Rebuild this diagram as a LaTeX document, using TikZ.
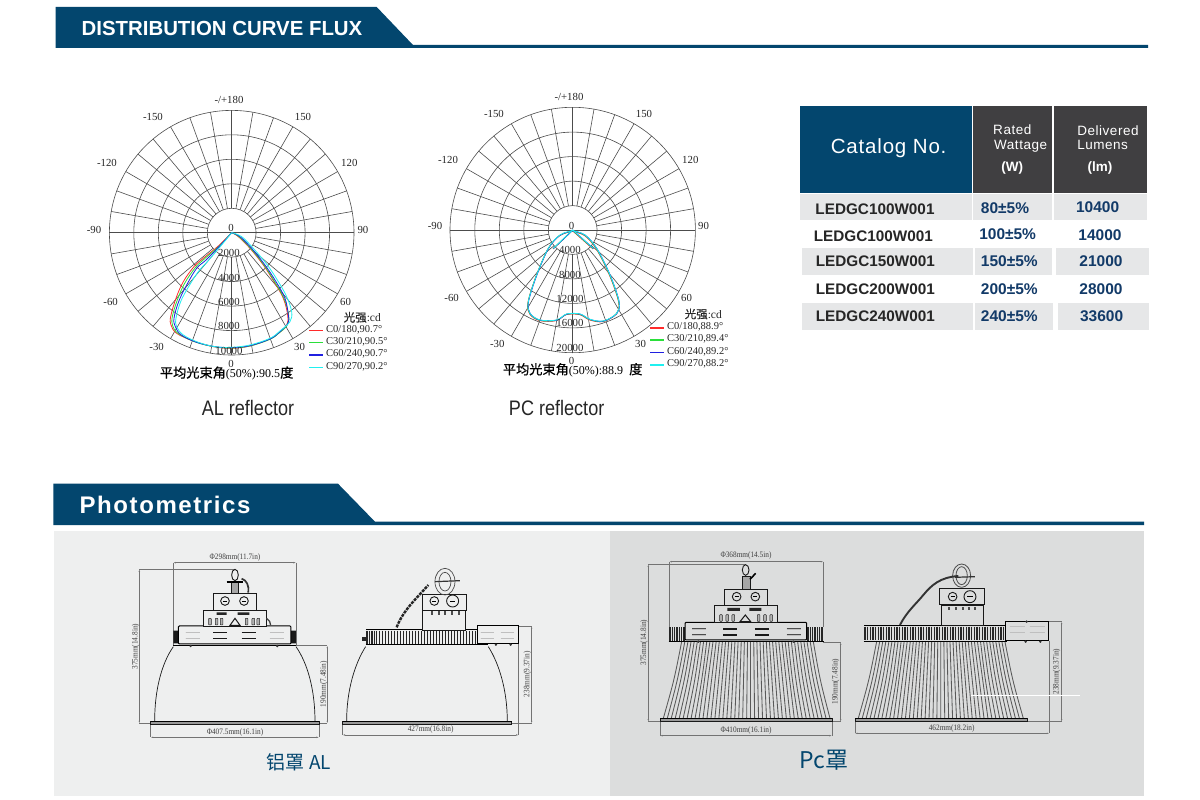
\documentclass[tikz,border=0pt]{standalone}
\usepackage{fontspec}
\setmainfont{Liberation Sans}
\newfontfamily\serifface{Liberation Serif}
\newfontfamily\cjkface{Noto Sans CJK SC}
\newfontfamily\cjkbold[FakeBold=.6]{Noto Sans CJK SC}
\usetikzlibrary{arrows.meta}
\definecolor{navy}{HTML}{03466E}
\definecolor{headgray}{HTML}{403F41}
\definecolor{rowgray}{HTML}{E6E7E8}
\definecolor{valblue}{HTML}{123A68}
\definecolor{panelA}{HTML}{EEEFEF}
\definecolor{panelB}{HTML}{DCDDDD}
\definecolor{curveA}{HTML}{FF2A2A}
\definecolor{curveB}{HTML}{2ADF3A}
\definecolor{curveC}{HTML}{2020E0}
\definecolor{curveD}{HTML}{20F0F0}
\newcommand{\fs}[1]{\fontsize{#1}{#1}\selectfont}
\tikzset{
  zoomed/.style 2 args={shift={(#1,#2)},x=0.3333pt,y=-0.3333pt},
  gridline/.style={draw=black!70,line width=.6pt},
  curveline/.style={line width=.8pt},
  keyline/.style={line width=1.3pt},
  polarlabel/.style={font=\serifface\fs{10.8},text=black!85,inner sep=0pt},
  legendtext/.style={polarlabel,font=\serifface\fs{10.5},anchor=west},
  dimline/.style={draw=black!55,line width=.45pt},
  dimarrow/.style={dimline,{Latex[length=2.5pt,width=1.5pt]}-{Latex[length=2.5pt,width=1.5pt]}},
  dimlabel/.style={font=\serifface\fs{8.3},text=black!75,inner sep=0pt,xscale=.88},
  dimlabelup/.style={font=\serifface\fs{8.3},text=black!75,inner sep=0pt,rotate=90,xscale=.88},
  outline/.style={draw=black!90,line width=.7pt},
  plate/.style={draw=black,line width=1pt},
  slotbar/.style={draw=black!90,line width=1.3pt},
  slotpale/.style={draw=black!70,line width=.45pt,double=black!25,double distance=.7pt},
  pin/.style={draw=black!85,line width=.5pt,fill=black!30,rounded corners=.6pt},
  fin/.style={draw=black!85,line width=1.1pt},
  rib/.style={draw=black!65,line width=.85pt},
  rim/.style={draw=black!90,line width=.5pt,fill=black!40},
  caption/.style={font=\fs{21},xscale=.86,text=black!85,inner sep=0pt},
  subtitle/.style={font=\cjkface\fs{19},text=navy,inner sep=0pt},
  head/.style={font=\fs{13.5}\addfontfeatures{LetterSpace=4},text=white,inner sep=0pt},
  code/.style={font=\bfseries\fs{15.3},text=black!85,inner sep=0pt},
  val/.style={font=\bfseries\fs{15.5},text=valblue,inner sep=0pt},
}
\begin{document}
\begin{tikzpicture}[x=1pt,y=-1pt]
\useasboundingbox (0,0) rectangle (1200,800);
\fill[white] (0,0) rectangle (1200,800);

% banners
\fill[navy] (55.7,7) -- (376.7,7) -- (413,45) -- (1148,45) -- (1148,48) -- (55.7,48) -- cycle;
\node[font=\bfseries\fs{20.4},text=white,inner sep=0pt] (fluxtitle) at (222,28.5) {DISTRIBUTION CURVE FLUX};
\fill[navy] (53.3,483.7) -- (338,483.7) -- (375,521.7) -- (1144,521.7) -- (1144,525) -- (53.3,525) -- cycle;
\node[font=\bfseries\fs{24}\addfontfeatures{LetterSpace=6.6},text=white,inner sep=0pt] (photitle) at (165,504.5) {Photometrics};

% left polar chart
\begin{scope}[shift={(231.7,232.7)}]
  \foreach \r in {24.4,48.9,73.4,97.9,122.3}
    \draw[gridline] (0,0) circle (\r);
  \foreach \a in {0,10,...,350}
    \draw[gridline] (\a:24.4) -- (\a:122.3);
  \draw[gridline] (-122.3,0) -- (122.3,0);
\end{scope}
\begin{scope}[zoomed={70}{85}]
  \draw[curveA,curveline] plot[smooth,tension=.6] coordinates {(485,443)(445,483)(400,520)(372,545)(340,590)(318,640)(302,695)(303,720)(320,745)(370,768)(430,785)(485,790)(540,783)(600,762)(625,745)(650,722)(653,690)(640,640)(612,590)(580,540)(540,490)(505,455)(485,443)};
  \draw[curveB,curveline] plot[smooth,tension=.6] coordinates {(485,443)(448,483)(403,522)(376,548)(344,595)(322,645)(307,695)(308,722)(324,745)(373,770)(432,785)(485,789)(540,783)(600,763)(626,745)(652,720)(656,690)(642,640)(614,590)(582,540)(542,490)(507,455)(485,443)};
  \draw[curveC,curveline] plot[smooth,tension=.6] coordinates {(485,443)(452,480)(408,525)(380,550)(350,600)(326,650)(312,700)(316,725)(334,750)(380,772)(435,785)(485,788)(540,782)(600,762)(628,742)(654,715)(655,690)(645,640)(618,590)(585,540)(545,490)(510,455)(485,443)};
  \draw[curveD,curveline] plot[smooth,tension=.6] coordinates {(485,443)(455,480)(412,530)(385,560)(356,605)(332,650)(318,700)(320,725)(340,750)(385,772)(435,785)(485,787)(540,780)(600,760)(630,738)(660,710)(665,680)(650,635)(625,590)(592,540)(550,490)(515,455)(485,443)};
  \foreach \t/\x/\y [count=\i] in {{-/+180}/477/46,-150/249/97,150/699/97,-120/111/235,120/838/235,-90/72/434,90/879/434,-60/122/650,60/827/650,-30/260/787,30/689/787,0/483/836,0/483/430,2000/477/505,4000/477/578,6000/477/651,8000/477/724,10000/477/797}
    \node[polarlabel] (alpolar\i) at (\x,\y) {\t};
  \node[polarlabel,font=\fs{11.5}] (alunit) at (877,697) {{\cjkbold 光强}{\serifface :cd}};
  \foreach \t/\col/\y [count=\i] in {{C0/180,90.7°}/curveA/737,{C30/210,90.5°}/curveB/773,{C60/240,90.7°}/curveC/810,{C90/270,90.2°}/curveD/848}{
    \coordinate (alkeyA\i) at (718,\y);
    \coordinate (alkeyB\i) at (758,\y);
    \draw[\col,keyline] (alkeyA\i) -- (alkeyB\i);
    \node[legendtext] (alkey\i) at (768,\y-2) {\t};
  }
  \node[inner sep=0pt,font=\fs{13.2}] (albeam) at (470,865) {{\cjkbold 平均光束角}{\serifface\fs{12}(50\%):90.5}{\cjkbold 度}};
  \node[caption] (alcaption) at (534,968) {AL reflector};
\end{scope}

% right polar chart
\begin{scope}[shift={(572.7,230)}]
  \foreach \r in {24.4,48.9,73.4,97.9,122.7}
    \draw[gridline] (0,0) circle (\r);
  \foreach \a in {0,10,...,350}
    \draw[gridline] (\a:24.4) -- (\a:122.7);
  \draw[gridline] (-122.7,0) -- (122.7,0);
\end{scope}
\begin{scope}[zoomed={420}{85}]
  \foreach \col/\dx/\dy in {curveA/-1/2,curveB/-.5/1,curveC/.5/.5,curveD/0/0}{
    \draw[\col,curveline,xshift=\dx*.33pt,yshift=-\dy*.33pt] plot[smooth,tension=.55] coordinates {(458,437)(420,450)(385,490)(350,570)(325,650)(330,685)(360,705)(410,705)(440,687)(480,687)(510,703)(550,708)(590,685)(597,650)(570,570)(530,490)(495,450)(458,437)};
    \draw[\col,curveline,xshift=\dx*.33pt,yshift=-\dy*.33pt] (400,490) -- (458,435) -- (520,490);
  }
  \foreach \t/\x/\y [count=\i] in {{-/+180}/447/37,-150/222/88,150/672/88,-120/84/226,120/811/226,-90/45/424,90/851/424,-60/95/640,60/800/640,-30/232/778,30/662/778,0/455/828,0/455/422,4000/450/495,8000/450/569,12000/450/642,16000/450/715,20000/450/789}
    \node[polarlabel] (pcpolar\i) at (\x,\y) {\t};
  \node[polarlabel,font=\fs{11.5}] (pcunit) at (850,687) {{\cjkbold 光强}{\serifface :cd}};
  \foreach \t/\col/\y [count=\i] in {{C0/180,88.9°}/curveA/729,{C30/210,89.4°}/curveB/765,{C60/240,89.2°}/curveC/802,{C90/270,88.2°}/curveD/840}{
    \coordinate (pckeyA\i) at (691,\y);
    \coordinate (pckeyB\i) at (731,\y);
    \draw[\col,keyline] (pckeyA\i) -- (pckeyB\i);
    \node[legendtext] (pckey\i) at (741,\y-2) {\t};
  }
  \node[inner sep=0pt,font=\fs{13.2}] (pcbeam) at (458,855) {{\cjkbold 平均光束角}{\serifface\fs{12}(50\%):88.9\ \ }{\cjkbold 度}};
  \node[caption] (pccaption) at (410,968) {PC reflector};
\end{scope}

% table
\fill[navy] (800.3,106) rectangle (971.7,192.7);
\fill[headgray] (973,106) rectangle (1052,192.7);
\fill[headgray] (1054,106) rectangle (1146.7,192.7);
\fill[rowgray] (800.3,194.3) rectangle (971.7,220.3);
\fill[rowgray] (972.7,194.3) rectangle (1052,220.3);
\fill[rowgray] (1054,194.3) rectangle (1146.7,220.3);
\fill[rowgray] (802.3,247.7) rectangle (973,274.7);
\fill[rowgray] (975,247.7) rectangle (1052,274.7);
\fill[rowgray] (1056,247.7) rectangle (1148.7,274.7);
\fill[rowgray] (802.3,302.7) rectangle (973,330.3);
\fill[rowgray] (975,302.7) rectangle (1053.3,330.3);
\fill[rowgray] (1057.7,302.7) rectangle (1148.7,330.3);
\begin{scope}[zoomed={790}{100}]
  \node[head,font=\fs{20.5}\addfontfeatures{LetterSpace=4}] (cataloghead) at (296,145) {Catalog No.};
  \node[head] (ratedA) at (667,90) {Rated};
  \node[head] (ratedB) at (692,138) {Wattage};
  \node[head,font=\bfseries\fs{13.5}] (ratedC) at (667,203) {(W)};
  \node[head] (lumenA) at (954,92) {Delivered};
  \node[head] (lumenB) at (938,134) {Lumens};
  \node[head,font=\bfseries\fs{13.5}] (lumenC) at (930,203) {(lm)};
  \foreach \c/\cx/\cy/\w/\wx/\wy/\l/\lx/\ly [count=\i] in {
    LEDGC100W001/255/328/80±5\%/645/325/10400/923/322,
    LEDGC100W001/250/408/100±5\%/653/404/14000/930/405,
    LEDGC150W001/256/485/150±5\%/658/485/21000/933/485,
    LEDGC200W001/256/568/200±5\%/658/568/28000/933/568,
    LEDGC240W001/256/648/240±5\%/658/649/33600/935/650}{
    \node[code] (code\i) at (\cx,\cy) {\c};
    \node[val] (watt\i) at (\wx,\wy) {\w};
    \node[val] (lumen\i) at (\lx,\ly) {\l};
  }
\end{scope}

% photometric panels
\fill[panelA] (54,531) rectangle (610,796);
\fill[panelB] (610,531) rectangle (1144,796);

% aluminium reflector, front and side
\begin{scope}[zoomed={120}{540}]
  \draw[dimarrow] (160,68) -- (528,68);
  \draw[dimline] (160,68) -- (160,315) (528,68) -- (528,315);
  \draw[dimarrow] (58,88) -- (58,550);
  \draw[dimline] (58,88) -- (345,88) (58,550) -- (100,550);
  \draw[dimarrow] (622,317) -- (622,550);
  \draw[dimline] (528,317) -- (622,317) (590,550) -- (622,550);
  \draw[dimarrow] (92,592) -- (597,592);
  \draw[dimline] (92,548) -- (92,592) (597,548) -- (597,592);
  \node[dimlabel] (aldimA) at (345,53) {Φ298mm(11.7in)};
  \node[dimlabelup] (aldimB) at (47,320) {375mm(14.8in)};
  \node[dimlabelup] (aldimC) at (612,433) {190mm(7.48in)};
  \node[dimlabel] (aldimD) at (345,577) {Φ407.5mm(16.1in)};
  % reflector
  \draw[outline] (160,320) .. controls (125,370) and (104,450) .. (104,543);
  \draw[outline] (528,320) .. controls (563,370) and (585,450) .. (585,543);
  \draw[rim] (92,543) rectangle (597,553);
  \draw[plate] (92,544) -- (597,544);
  % housing
  \fill[black!90] (160,272) rectangle (178,310) (512,272) rectangle (528,310);
  \draw[plate,fill=panelA,rounded corners=1pt] (175,258) rectangle (513,312);
  \draw[plate] (160,316) -- (528,316);
  \foreach \x in {197,450} {
    \draw[slotpale] (\x,277) -- ++(42,0);
    \draw[slotpale] (\x,296) -- ++(42,0);
  }
  \foreach \x in {280,365} {
    \draw[slotbar] (\x,277) -- ++(42,0);
    \draw[slotbar] (\x,296) -- ++(42,0);
  }
  \fill[black!80] (212,318) circle (4) (472,318) circle (4);
  \draw[outline,fill=panelA] (250,210) rectangle (440,258);
  \foreach \x in {270,290,305,380,400,415}
    \draw[pin] (\x-4,235) rectangle (\x+4,255);
  \draw[outline,line width=1pt] (330,256) -- (345,235) -- (360,256) -- cycle;
  \fill[black!85] (290,217) rectangle (320,225) (353,217) rectangle (388,225);
  \draw[outline,fill=panelA] (280,160) rectangle (410,210);
  \foreach \x in {315,372} {
    \draw[outline,line width=.9pt] (\x,183) circle (13);
    \draw[black,line width=.9pt] (\x-6,183) -- (\x+6,183);
  }
  \draw[black!75,line width=1.3pt] (440,235) .. controls (448,240) and (452,248) .. (452,256);
  \draw[outline,line width=.9pt] (345,105) ellipse (10 and 17);
  \draw[outline,fill=black!35] (335,125) rectangle (355,160);
  \draw[black,line width=1.2pt] (320,126) -- (370,126);
  \draw[black!80,line width=1.7pt] (365,116) .. controls (380,120) and (388,138) .. (385,158);

  \draw[dimarrow] (668,585) -- (1196,585);
  \draw[dimline] (668,553) -- (668,585) (1196,312) -- (1196,585);
  \draw[dimarrow] (1235,258) -- (1235,550);
  \draw[dimline] (1196,258) -- (1235,258) (1175,550) -- (1235,550);
  \node[dimlabel] (aldimE) at (932,570) {427mm(16.8in)};
  \node[dimlabelup] (aldimF) at (1222,403) {238mm(9.37in)};
  \draw[outline] (737,320) .. controls (705,370) and (680,450) .. (680,543);
  \draw[outline] (1105,320) .. controls (1137,370) and (1162,450) .. (1162,543);
  \draw[rim] (668,543) rectangle (1175,553);
  \draw[plate] (668,544) -- (1175,544);
  \foreach \x in {738,743,...,770}
    \draw[fin,line width=.8pt] (\x,272) -- (\x,312);
  \foreach \x in {778,787,...,1070}
    \draw[fin,line width=.9pt] (\x,272) -- (\x,312);
  \draw[plate] (738,270) -- (1072,270) (738,314) -- (1105,314);
  \fill[black!85] (725,292) rectangle (738,302);
  \draw[plate,fill=panelA] (1072,258) rectangle (1196,312);
  \foreach \x in {1082,1143} {
    \draw[slotpale] (\x,277) -- ++(40,0);
    \draw[slotpale] (\x,296) -- ++(40,0);
  }
  \foreach \x in {1128,1172}
    \fill[black!80] (\x,314) circle (4);
  \draw[outline,fill=panelA] (908,210) rectangle (1035,270);
  \foreach \x in {936,956,976,996,1016}
    \fill[black!70] (\x-3,213) rectangle (\x+3,224);
  \draw[outline,fill=panelA] (908,163) rectangle (1038,212);
  \draw[outline,line width=.9pt] (943,183) circle (13);
  \draw[outline,line width=.9pt] (998,183) circle (18);
  \draw[black,line width=.9pt] (937,183) -- (949,183) (990,183) -- (1006,183);
  \draw[black!70,line width=.7pt] (975,125) ellipse (30 and 40) (975,125) ellipse (18 and 28);
  \draw[black!80,line width=1.2pt] (945,125) -- (1020,122);
  \draw[black!85,line width=2.4pt,dash pattern=on 3pt off 1pt] (830,262) .. controls (850,210) and (890,175) .. (925,135);
\end{scope}

% pc reflector, front and side
\begin{scope}[zoomed={630}{540}]
  \draw[dimarrow] (118,65) -- (580,65);
  \draw[dimline] (118,65) -- (118,262) (580,65) -- (580,262);
  \draw[dimarrow] (55,73) -- (55,545);
  \draw[dimline] (55,73) -- (345,73) (55,545) -- (90,545);
  \draw[dimarrow] (632,307) -- (632,545);
  \draw[dimline] (580,307) -- (632,307) (606,545) -- (632,545);
  \draw[dimarrow] (90,587) -- (606,587);
  \draw[dimline] (90,545) -- (90,587) (606,545) -- (606,587);
  \node[dimlabel] (pcdimA) at (348,48) {Φ368mm(14.5in)};
  \node[dimlabelup] (pcdimB) at (42,308) {375mm(14.8in)};
  \node[dimlabelup] (pcdimC) at (617,425) {190mm(7.48in)};
  \node[dimlabel] (pcdimD) at (348,571) {Φ410mm(16.1in)};
  % ribs
  \foreach \i in {0,...,42}
    \draw[rib] ({155+9.405*\i},305) .. controls ({132.5+10.417*\i},420) .. ({100+11.905*\i},535);
  \draw[rim] (90,535) rectangle (606,545);
  \draw[plate] (90,536) -- (606,536);
  % housing
  \foreach \x in {120,127,...,165,534,541,...,578}
    \draw[fin] (\x,262) -- (\x,302);
  \draw[plate] (116,305) -- (582,305);
  \draw[plate,fill=panelB,rounded corners=1pt] (165,247) rectangle (530,300);
  \foreach \x in {186,470} {
    \draw[slotpale] (\x,267) -- ++(42,0);
    \draw[slotpale] (\x,285) -- ++(42,0);
  }
  \foreach \x in {280,375} {
    \draw[slotbar] (\x,267) -- ++(42,0);
    \draw[slotbar] (\x,285) -- ++(42,0);
  }
  \fill[black!80] (205,305) circle (4) (490,305) circle (4);
  \draw[outline,fill=panelB] (253,197) rectangle (443,247);
  \foreach \x in {273,292,310,386,405,424}
    \draw[pin] (\x-4,224) rectangle (\x+4,244);
  \draw[outline,line width=1pt] (330,245) -- (346,225) -- (362,245) -- cycle;
  \fill[black!85] (292,204) rectangle (330,213) (358,204) rectangle (394,213);
  \draw[outline,fill=panelB] (283,147) rectangle (413,197);
  \foreach \x in {320,376} {
    \draw[outline,line width=.9pt] (\x,170) circle (13);
    \draw[black,line width=.9pt] (\x-6,170) -- (\x+6,170);
  }
  \draw[outline,line width=.9pt] (347,90) ellipse (10 and 16);
  \draw[outline,fill=black!35] (337,108) rectangle (362,147);
  \draw[black,line width=1.6pt] (360,118) -- (377,100);

  \draw[dimarrow] (675,580) -- (1258,580);
  \draw[dimline] (675,545) -- (675,580) (1258,303) -- (1258,580);
  \draw[dimarrow] (1295,245) -- (1295,545);
  \draw[dimline] (1257,245) -- (1295,245) (1192,545) -- (1295,545);
  \node[dimlabel] (pcdimE) at (965,565) {462mm(18.2in)};
  \node[dimlabelup] (pcdimF) at (1280,395) {238mm(9.37in)};
  \foreach \i in {0,...,42}
    \draw[rib] ({740+9.167*\i},305) .. controls ({717.5+10.238*\i},420) .. ({685+11.786*\i},535);
  \draw[rim] (675,535) rectangle (1192,545);
  \draw[plate] (675,536) -- (1192,536);
  \foreach \x in {705,713,...,1128}
    \draw[fin] (\x,260) -- (\x,300);
  \draw[plate] (703,258) -- (1125,258) (701,304) -- (1130,304);
  \draw[plate,fill=panelB] (1128,245) rectangle (1257,303);
  \foreach \x in {1140,1200} {
    \draw[slotpale] (\x,260) -- ++(45,0);
    \draw[slotpale] (\x,278) -- ++(45,0);
  }
  \fill[black!80] (1190,245) circle (4) (1187,305) circle (4) (1231,305) circle (4);
  \draw[outline,fill=panelB] (935,195) rectangle (1060,257);
  \foreach \x in {958,978,998,1018,1036}
    \fill[black!70] (\x-3,200) rectangle (\x+3,211);
  \draw[outline,fill=panelB,line width=1pt] (930,147) rectangle (1065,195);
  \draw[outline,line width=.9pt] (968,170) circle (13);
  \draw[outline,line width=.9pt] (1020,170) circle (18);
  \draw[black,line width=.9pt] (962,170) -- (974,170) (1012,170) -- (1028,170);
  \draw[black!70,line width=.8pt] (995,107) ellipse (27 and 35) (995,107) ellipse (17 and 27);
  \draw[black!80,line width=1.2pt] (975,112) -- (1035,110);
  \draw[black!80,line width=1.9pt] (810,255) .. controls (830,215) and (860,190) .. (880,165) .. controls (905,135) and (930,112) .. (985,108);
  \draw[white,line width=.6pt] (1022,465) -- (1350,465);
\end{scope}
\begin{scope}[zoomed={120}{540}]
  \node[subtitle] (altitle) at (537,668) {铝罩 AL};
\end{scope}
\begin{scope}[zoomed={630}{540}]
  \node[subtitle,font=\cjkface\fs{23}] (pctitle) at (582,662) {Pc罩};
\end{scope}
\end{tikzpicture}
\end{document}
